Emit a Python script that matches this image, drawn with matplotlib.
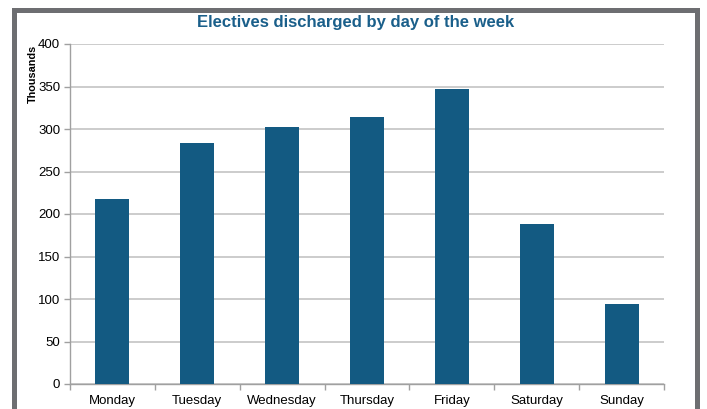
import matplotlib.pyplot as plt
import numpy as np
from matplotlib.patches import Rectangle

plt.rcParams['font.family'] = ['Liberation Sans', 'DejaVu Sans']

# Electives discharged, thousands
days = ["Monday", "Tuesday", "Wednesday", "Thursday", "Friday", "Saturday", "Sunday"]
discharges = [218, 284, 302, 314, 347, 188, 94]
yticks = [0, 50, 100, 150, 200, 250, 300, 350, 400]

W, H = 707, 409
fig = plt.figure(figsize=(W / 100, H / 100), dpi=100)
ax = fig.add_axes([70 / W, 1 - 384 / H, (664 - 70) / W, (384 - 44) / H])

x = np.arange(len(days))
ax.bar(x, discharges, width=0.4, color="#135a82", zorder=3)

ax.set_xlim(-0.5, len(days) - 0.5)
ax.set_ylim(0, 400)
ax.set_yticks(yticks)
ax.set_xticks(x)
ax.set_xticklabels(days, fontsize=9.5)
ax.tick_params(axis="x", length=0, pad=8)
ax.set_xticks(np.arange(len(days) + 1) - 0.5, minor=True)
ax.tick_params(axis="x", which="minor", length=4, color="#a0a0a0", width=1)
ax.tick_params(axis="y", length=4, color="#a0a0a0", width=1, labelsize=9.5, pad=3)

ax.grid(axis="y", color="#c4c4c4", linewidth=1.2, zorder=0)
for side in ["top", "right"]:
    ax.spines[side].set_visible(False)
for side in ["left", "bottom"]:
    ax.spines[side].set_color("#a0a0a0")
    ax.spines[side].set_linewidth(1)

fig.text(356 / W, 1 - 23 / H, "Electives discharged by day of the week",
         ha="center", va="center", fontsize=12, fontweight="bold", color="#1a5f8a")
fig.text(33 / W, 1 - 74 / H, "Thousands", rotation=90, ha="center", va="center",
         fontsize=7.8, fontweight="bold", color="black")

# grey frame around the chart
fig.patches.append(Rectangle((14 / W, -0.1), (696.5 - 14) / W, 1.1 - 10 / H,
                             transform=fig.transFigure, fill=False,
                             edgecolor="#6d6e71", linewidth=3.6))

fig.savefig("out.png", dpi=100)
